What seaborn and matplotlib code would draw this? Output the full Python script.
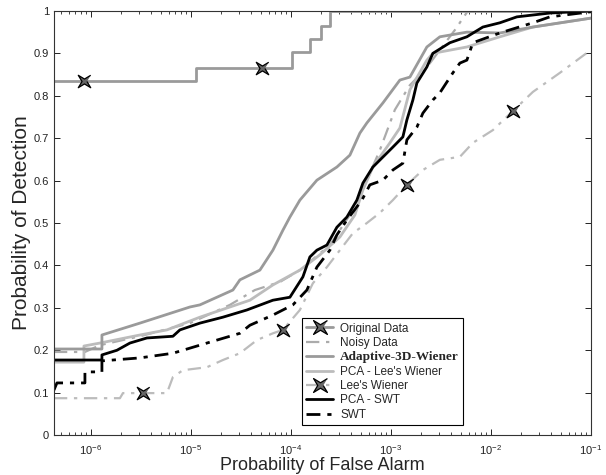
"""
ROC comparison: probability of detection vs probability of false alarm
for several denoising methods (log x axis, MATLAB-like styling).
"""

import numpy as np
import pandas as pd
import matplotlib
matplotlib.use("Agg")
import matplotlib.pyplot as plt
from matplotlib.lines import Line2D
from matplotlib.ticker import LogLocator, FixedLocator
import seaborn as sns

# ---------------------------------------------------------------------------
# Data (x values are log10 of the false alarm probability)
# ---------------------------------------------------------------------------

orig_lpfa = [-6.37, -4.95, -4.95, -3.99, -3.99, -3.81, -3.81, -3.70, -3.70, -3.61, -3.61, -1.0]
orig_pd = [0.835, 0.835, 0.866, 0.866, 0.903, 0.903, 0.934, 0.934, 0.965, 0.965, 1.0, 1.0]
orig_mark_lpfa = [-6.07, -4.29]
orig_mark_pd = [0.835, 0.866]

noisy_lpfa = [-6.37, -6.06, -5.91, -5.51, -5.01, -4.61, -4.36, -4.11, -3.91, -3.61,
              -3.41, -3.26, -3.11, -2.96, -2.81, -2.66, -2.51, -2.36, -2.23, -1.0]
noisy_pd = [0.196, 0.196, 0.212, 0.233, 0.264, 0.307, 0.342, 0.361, 0.389, 0.448,
            0.519, 0.590, 0.672, 0.767, 0.825, 0.861, 0.908, 0.955, 1.0, 1.0]

adapt_lpfa = [-6.37, -5.89, -5.89, -5.51, -5.01, -4.91, -4.58, -4.51, -4.31, -4.18,
              -4.08, -4.01, -3.91, -3.74, -3.54, -3.41, -3.31, -3.24, -3.08, -2.91,
              -2.81, -2.64, -2.51, -2.24, -1.91, -1.58, -1.0]
adapt_pd = [0.203, 0.203, 0.236, 0.264, 0.302, 0.307, 0.342, 0.366, 0.389, 0.436,
            0.483, 0.514, 0.554, 0.601, 0.632, 0.660, 0.712, 0.736, 0.783, 0.837,
            0.844, 0.915, 0.939, 0.950, 0.948, 0.962, 0.983]

pcalee_lpfa = [-6.37, -6.07, -6.07, -5.91, -5.51, -5.24, -4.91, -4.41, -4.18, -3.91,
               -3.71, -3.51, -3.36, -3.28, -3.18, -3.01, -2.91, -2.81, -2.64, -2.58,
               -2.24, -1.91, -1.58, -1.0]
pcalee_pd = [0.172, 0.172, 0.210, 0.217, 0.236, 0.248, 0.278, 0.318, 0.354, 0.389,
             0.425, 0.467, 0.519, 0.578, 0.632, 0.689, 0.724, 0.814, 0.884, 0.900,
             0.915, 0.939, 0.962, 0.983]

lee_lpfa = [-6.37, -5.71, -5.68, -5.24, -5.18, -5.08, -4.84, -4.68, -4.51, -4.34,
            -4.18, -4.08, -3.91, -3.78, -3.64, -3.51, -3.38, -3.24, -3.11, -2.98,
            -2.84, -2.68, -2.51, -2.31, -2.18, -1.98, -1.78, -1.58, -1.31, -1.0]
lee_pd = [0.087, 0.087, 0.099, 0.099, 0.137, 0.153, 0.160, 0.177, 0.193, 0.224,
          0.240, 0.248, 0.295, 0.358, 0.396, 0.436, 0.476, 0.500, 0.524, 0.554,
          0.590, 0.625, 0.649, 0.656, 0.689, 0.719, 0.764, 0.809, 0.854, 0.908]
lee_mark_lpfa = [-5.48, -4.08, -2.84, -1.78]
lee_mark_pd = [0.099, 0.248, 0.590, 0.764]

pcaswt_lpfa = [-6.37, -5.89, -5.89, -5.74, -5.61, -5.44, -5.18, -5.11, -4.91, -4.68,
               -4.44, -4.18, -4.01, -3.88, -3.81, -3.74, -3.64, -3.54, -3.44, -3.34,
               -3.28, -3.18, -2.98, -2.88, -2.84, -2.78, -2.74, -2.64, -2.58, -2.41,
               -2.24, -2.08, -1.91, -1.74, -1.41, -1.0]
pcaswt_pd = [0.177, 0.177, 0.189, 0.200, 0.217, 0.229, 0.233, 0.248, 0.264, 0.278,
             0.295, 0.318, 0.325, 0.373, 0.420, 0.436, 0.448, 0.490, 0.514, 0.554,
             0.594, 0.632, 0.679, 0.703, 0.743, 0.790, 0.830, 0.868, 0.900, 0.925,
             0.939, 0.962, 0.972, 0.986, 0.995, 1.0]

swt_lpfa = [-6.37, -6.34, -6.06, -6.06, -5.89, -5.89, -5.51, -5.18, -4.84, -4.51,
            -4.41, -4.18, -3.98, -3.84, -3.74, -3.61, -3.54, -3.44, -3.29, -3.21,
            -3.08, -2.98, -2.88, -2.84, -2.74, -2.68, -2.58, -2.51, -2.38, -2.31,
            -2.24, -2.18, -1.91, -1.58, -1.41, -1.0]
swt_pd = [0.106, 0.123, 0.123, 0.149, 0.149, 0.175, 0.182, 0.193, 0.217, 0.240,
          0.259, 0.283, 0.307, 0.342, 0.396, 0.436, 0.472, 0.507, 0.554, 0.590,
          0.601, 0.625, 0.641, 0.696, 0.726, 0.759, 0.790, 0.807, 0.854, 0.877,
          0.884, 0.925, 0.948, 0.972, 0.986, 0.998]

y_ticks = [0, 0.1, 0.2, 0.3, 0.4, 0.5, 0.6, 0.7, 0.8, 0.9, 1]
y_tick_labels = ["0", "0.1", "0.2", "0.3", "0.4", "0.5", "0.6", "0.7", "0.8", "0.9", "1"]

# ---------------------------------------------------------------------------
# Styling
# ---------------------------------------------------------------------------

GRAY = "#9a9a9a"
LIGHT = "#bcbcbc"
DASHDOT = (0, (6, 3, 1.5, 3))
BLACK_DASHDOT = (0, (5, 2.5, 1.5, 2.5))

# thin four-pointed star, arms along the diagonals
_ang = np.deg2rad(np.arange(45, 405, 45))
_rad = np.tile([1.0, 0.28], 4)
STAR = np.column_stack([_rad * np.cos(_ang), _rad * np.sin(_ang)])

sns.set_style("ticks")
plt.rcParams["font.family"] = ["Liberation Sans", "DejaVu Sans"]
plt.rcParams["xtick.direction"] = "in"
plt.rcParams["ytick.direction"] = "in"


def draw(ax, lpfa, pd_, **kws):
    frame = pd.DataFrame({"pfa": np.power(10.0, lpfa), "pd": pd_})
    sns.lineplot(data=frame, x="pfa", y="pd", sort=False, estimator=None,
                 ax=ax, legend=False, **kws)


def stars(ax, lpfa, pd_):
    frame = pd.DataFrame({"pfa": np.power(10.0, lpfa), "pd": pd_})
    sns.scatterplot(data=frame, x="pfa", y="pd", marker=STAR, s=80,
                    color="#666666", edgecolor="black", linewidth=0.9,
                    ax=ax, legend=False, zorder=5)


fig = plt.figure(figsize=(6.06, 4.75), dpi=100)
ax = fig.add_axes([0.089, 0.084, 0.886, 0.893])

draw(ax, lee_lpfa, lee_pd, color=LIGHT, linewidth=1.6, linestyle=DASHDOT)
draw(ax, noisy_lpfa, noisy_pd, color="#ababab", linewidth=1.6, linestyle=DASHDOT)
draw(ax, pcalee_lpfa, pcalee_pd, color=LIGHT, linewidth=2.0)
draw(ax, adapt_lpfa, adapt_pd, color=GRAY, linewidth=2.0)
draw(ax, orig_lpfa, orig_pd, color=GRAY, linewidth=2.0)
draw(ax, swt_lpfa, swt_pd, color="black", linewidth=2.0, linestyle=BLACK_DASHDOT)
draw(ax, pcaswt_lpfa, pcaswt_pd, color="black", linewidth=2.0)
stars(ax, orig_mark_lpfa, orig_mark_pd)
stars(ax, lee_mark_lpfa, lee_mark_pd)

ax.set_xscale("log")
ax.set_xlim(10 ** -6.37, 0.1)
ax.set_ylim(0, 1)
ax.xaxis.set_major_locator(LogLocator(base=10, numticks=12))
ax.xaxis.set_minor_locator(LogLocator(base=10, subs=np.arange(2, 10), numticks=12))
ax.yaxis.set_major_locator(FixedLocator(y_ticks))
ax.set_yticklabels(y_tick_labels)
ax.tick_params(which="both", top=True, right=True, labelsize=8, colors="#222222")
ax.tick_params(axis="x", which="major", pad=6)
ax.tick_params(which="major", length=4, width=0.7)
ax.tick_params(which="minor", length=2.2, width=0.6)
for sp in ax.spines.values():
    sp.set_linewidth(0.8)
    sp.set_color("#333333")

ax.set_xlabel("Probability of False Alarm", fontsize=13, labelpad=0)
ax.set_ylabel("Probability of Detection", fontsize=15, labelpad=2)

handles = [
    Line2D([], [], color=GRAY, lw=2, marker=STAR, ms=10, mfc="#666666", mec="black", mew=0.9),
    Line2D([], [], color="#ababab", lw=1.6, linestyle=DASHDOT),
    Line2D([], [], color=GRAY, lw=2),
    Line2D([], [], color=LIGHT, lw=2),
    Line2D([], [], color=LIGHT, lw=1.6, linestyle=DASHDOT, marker=STAR, ms=10,
           mfc="#666666", mec="black", mew=0.9),
    Line2D([], [], color="black", lw=2),
    Line2D([], [], color="black", lw=2, linestyle=BLACK_DASHDOT),
]
labels = ["Original Data", "Noisy Data", "Adaptive-3D-Wiener", "PCA - Lee's Wiener",
          "Lee's Wiener", "PCA - SWT", "SWT"]
leg = ax.legend(handles, labels, loc="lower left", bbox_to_anchor=(0.462, 0.024),
                borderaxespad=0, fontsize=8.5, handlelength=2.3, handletextpad=0.6,
                labelspacing=0.2, borderpad=0.35, frameon=True, fancybox=False,
                framealpha=1, edgecolor="black")
leg.get_frame().set_linewidth(0.8)
txt = leg.get_texts()[2]
txt.set_family(["Liberation Serif", "DejaVu Serif"])
txt.set_fontweight("bold")
txt.set_fontsize(9.5)

fig.savefig("out.png", dpi=100)
